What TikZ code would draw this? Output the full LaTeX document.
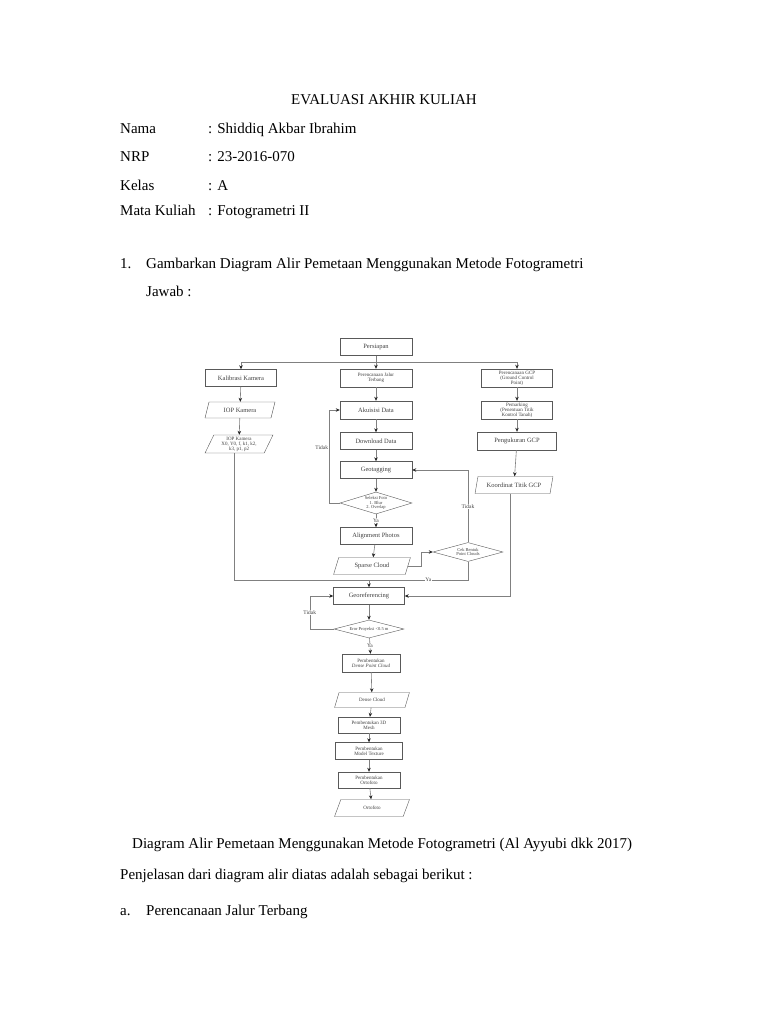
\documentclass[tikz,border=0pt]{standalone}
\usepackage{fontspec}
\setmainfont{Liberation Serif}
\usetikzlibrary{shapes.geometric,arrows.meta}

\tikzset{
  body/.style={font=\fontsize{15}{18}\selectfont, anchor=base west, inner sep=0pt},
  proc/.style={draw=black!65, fill=white, rectangle, minimum width=72pt, minimum height=17pt,
    inner sep=0.5pt, align=center, font=\fontsize{6.5}{6.3}\selectfont, text=black!75},
  smalltext/.style={font=\fontsize{5}{5.1}\selectfont},
  iobox/.style={proc, trapezium, trapezium left angle=68, trapezium right angle=112,
    trapezium stretches=true},
  decide/.style={proc, diamond, aspect=3.5, inner sep=0pt, font=\fontsize{4.5}{4.6}\selectfont},
  line/.style={draw=black!50, line width=0.6pt},
  arr/.style={line, -{Stealth[length=4pt,width=3.5pt,color=black!85]}},
  lbl/.style={font=\fontsize{5.5}{5.5}\selectfont, fill=white, inner sep=0.5pt, text=black!75},
}

\begin{document}
\begin{tikzpicture}[x=1pt, y=-1pt]
  \fill[white] (0,0) rectangle (768,1024);
  \useasboundingbox (0,0) rectangle (768,1024);

  % page header
  \node[body, anchor=base] (judul) at (384,105) {EVALUASI AKHIR KULIAH};
  \node[body] (nama) at (120,134) {Nama};
  \node[body] (namaisi) at (208,134) {: Shiddiq Akbar Ibrahim};
  \node[body] (nrp) at (120,162) {NRP};
  \node[body] (nrpisi) at (208,162) {: 23-2016-070};
  \node[body] (kelas) at (120,191) {Kelas};
  \node[body] (kelasisi) at (208,191) {: A};
  \node[body] (matkul) at (120,215) {Mata Kuliah};
  \node[body] (matkulisi) at (208,215) {: Fotogrametri II};
  \node[body] (nosoal) at (120,268) {1.};
  \node[body] (soal) at (146,268) {Gambarkan Diagram Alir Pemetaan Menggunakan Metode Fotogrametri};
  \node[body] (jawab) at (146,296) {Jawab :};

  % top row
  \node[proc] (persiapan) at (376,347) {Persiapan};
  \node[proc, minimum width=71pt] (kalibrasi) at (241,378) {Kalibrasi Kamera};
  \node[proc, smalltext, minimum height=18pt] (jalur) at (376,378) {Perencanaan Jalur\\Terbang};
  \node[proc, smalltext, minimum width=71pt, minimum height=18pt] (rgcp) at (517,378) {Perencanaan GCP\\(Ground Control\\Point)};

  % left column
  \node[iobox, minimum width=70pt, minimum height=16pt] (iop) at (240,410) {IOP Kamera};
  \node[iobox, smalltext, minimum width=68pt, minimum height=18pt] (iopx) at (239,444) {IOP Kamera\\X0, Y0, f, k1, k2,\\k3, p1, p2};

  % middle column
  \node[proc, minimum height=18pt] (akuisisi) at (376,410) {Akuisisi Data};
  \node[proc] (download) at (376,441) {Download Data};
  \node[proc] (geotag) at (376,470) {Geotagging};
  \node[decide, minimum width=72pt, minimum height=22pt] (seleksi) at (376,503) {Seleksi Foto\\1. Blur\\2. Overlap};
  \node[proc] (alignment) at (376,536) {Alignment Photos};
  \node[iobox, minimum width=77pt, minimum height=17pt] (sparse) at (372,566) {Sparse Cloud};

  % right column
  \node[proc, smalltext, minimum width=71pt, minimum height=18pt] (marking) at (517,410) {Pemarking\\(Penentuan Titik\\Kontrol Tanah)};
  \node[proc, minimum width=79pt, minimum height=18pt] (ukurgcp) at (517,441) {Pengukuran GCP};
  \node[iobox, minimum width=78pt, minimum height=17pt] (koord) at (514,485) {Koordinat Titik GCP};
  \node[decide, minimum width=70pt, minimum height=19pt] (cek) at (468,552) {Cek Bentuk\\Point Clouds};

  % lower column
  \node[proc, minimum width=71pt] (georef) at (369,596) {Georeferencing};
  \node[decide, minimum width=70pt, minimum height=18pt] (eror) at (369,629) {Eror Proyeksi {<}0.5 m};
  \node[proc, smalltext, minimum width=58pt, minimum height=18pt] (dense) at (371,663) {Pembentukan\\\textit{Dense Point Cloud}};
  \node[iobox, smalltext, minimum width=75pt, minimum height=15pt] (densecl) at (372,700) {Dense Cloud};
  \node[proc, smalltext, minimum width=62pt, minimum height=16pt] (mesh) at (369,725) {Pembentukan 3D\\Mesh};
  \node[proc, smalltext, minimum width=67pt, minimum height=17pt] (texture) at (369,751) {Pembentukan\\Model Texture};
  \node[proc, smalltext, minimum width=62pt, minimum height=16pt] (orto) at (369,780) {Pembentukan\\Ortofoto};
  \node[iobox, smalltext, minimum width=75pt, minimum height=17pt] (ortofoto) at (372,808) {Ortofoto};

  % connectors
  \coordinate (bagi) at (376,362);
  \draw[arr] (persiapan) -- (jalur);
  \draw[arr] (bagi) -| (kalibrasi);
  \draw[arr] (bagi) -| (rgcp);

  \draw[arr] (kalibrasi) -- (iop);
  \draw[arr] (iop) -- (iopx);

  \draw[arr] (jalur) -- (akuisisi);
  \draw[arr] (akuisisi) -- (download);
  \draw[arr] (download) -- (geotag);
  \draw[arr] (geotag) -- (seleksi);
  \draw[arr] (seleksi) -- node[lbl] {Ya} (alignment);
  \draw[arr] (alignment) -- (sparse);
  \draw[arr] (seleksi.west) -- ++(-11,0) |- node[lbl, pos=0.3, left=0pt, fill=none] {Tidak} (akuisisi.west);

  \draw[arr] (rgcp) -- (marking);
  \draw[arr] (marking) -- (ukurgcp);
  \draw[arr] (ukurgcp) -- (koord);

  \draw[arr] (sparse.east) -- ++(13,0) |- (cek.west);
  \draw[arr] (cek.north) |- node[lbl, pos=0.25] {Tidak} (geotag.east);

  \coordinate (gabung) at (369,580);
  \draw[line] ([xshift=-5pt]iopx.south) |- (gabung);
  \draw[line] (cek.south) |- node[lbl, pos=0.7] {Ya} (gabung);
  \draw[arr] (gabung) -- (georef);
  \draw[arr] ([xshift=-4pt]koord.south) |- (georef.east);

  \draw[arr] (georef) -- (eror);
  \draw[arr] (eror.west) -- ++(-24,0) |- node[lbl, pos=0.25] {Tidak} (georef.west);
  \draw[arr] (eror) -- node[lbl] {Ya} (dense);
  \draw[arr] (dense) -- (densecl);
  \draw[arr] (densecl) -- (mesh);
  \draw[arr] (mesh) -- (texture);
  \draw[arr] (texture) -- (orto);
  \draw[arr] (orto) -- (ortofoto);

  % caption and text below
  \node[body] (caption) at (132,848) {Diagram Alir Pemetaan Menggunakan Metode Fotogrametri (Al Ayyubi dkk 2017)};
  \node[body] (penjelasan) at (120,879) {Penjelasan dari diagram alir diatas adalah sebagai berikut :};
  \node[body] (poin) at (120,915) {a.};
  \node[body] (poinisi) at (146,915) {Perencanaan Jalur Terbang};
\end{tikzpicture}
\end{document}
